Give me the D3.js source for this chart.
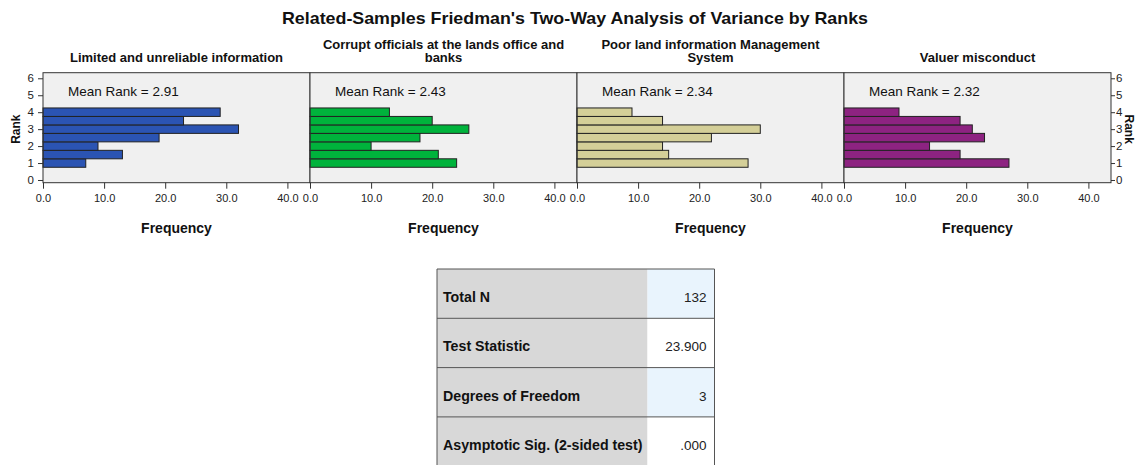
<!DOCTYPE html>
<html><head><meta charset="utf-8">
<script src="https://cdn.jsdelivr.net/npm/d3@7"></script>
<style>body{margin:0;background:#fff;} svg{display:block;font-family:"Liberation Sans",Arial,sans-serif;}</style>
</head><body>
<svg id="c" width="1137" height="465"></svg>
<script>
const title = "Related-Samples Friedman's Two-Way Analysis of Variance by Ranks";
const categories = [
  ["Limited and unreliable information"],
  ["Corrupt officials at the lands office and", "banks"],
  ["Poor land information Management", "System"],
  ["Valuer misconduct"]
];
const rankBins = [1, 1.5, 2, 2.5, 3, 3.5, 4];
const freqLimited = [7, 13, 9, 19, 32, 23, 29];
const freqCorrupt = [24, 21, 10, 18, 26, 20, 13];
const freqPoorLand = [28, 15, 14, 22, 30, 14, 9];
const freqValuer = [27, 19, 14, 23, 21, 19, 9];
const meanRanks = ["2.91", "2.43", "2.34", "2.32"];
const colors = ["#2B54B3", "#00B33C", "#D4CF98", "#8D2381"];
const xTicks = [0, 10, 20, 30, 40];
const yTicks = [0, 1, 2, 3, 4, 5, 6];
const tableLabels = ["Total N", "Test Statistic", "Degrees of Freedom", "Asymptotic Sig. (2-sided test)"];
const tableValues = ["132", "23.900", "3", ".000"];

(function () {
const series = [freqLimited, freqCorrupt, freqPoorLand, freqValuer];
const svg = d3.select("#c");

svg.append("text").attr("x", 575).attr("y", 24).attr("text-anchor", "middle")
  .attr("font-size", 17).attr("font-weight", "bold").attr("fill", "#111")
  .attr("textLength", 586).attr("lengthAdjust", "spacingAndGlyphs").text(title);

const panelW = 267, left0 = 43, plotTop = 72.7, plotBottom = 182.7;
const y = d3.scaleLinear().domain([-0.16, 6.33]).range([plotBottom, plotTop]);
const x = d3.scaleLinear().domain([0, 43.7]).range([0, panelW]);

series.forEach((vals, i) => {
  const g = svg.append("g").attr("transform", `translate(${left0 + i * panelW},0)`);
  g.append("rect").attr("x", 0).attr("y", plotTop).attr("width", panelW).attr("height", plotBottom - plotTop)
    .attr("fill", "#f0f0f0");
  g.selectAll("rect.bar").data(vals).join("rect").attr("class", "bar")
    .attr("x", x(0)).attr("y", (d, j) => y(rankBins[j] + 0.25))
    .attr("width", d => x(d) - x(0))
    .attr("height", (d, j) => y(rankBins[j] - 0.25) - y(rankBins[j] + 0.25))
    .attr("fill", colors[i]).attr("stroke", "#222").attr("stroke-width", 1);
  g.append("rect").attr("x", 0).attr("y", plotTop).attr("width", panelW).attr("height", plotBottom - plotTop)
    .attr("fill", "none").attr("stroke", "#333").attr("stroke-width", 1);
  const xa = g.append("g").attr("transform", `translate(0,${plotBottom})`)
    .call(d3.axisBottom(x).tickValues(xTicks).tickSize(6).tickFormat(d3.format(".1f")));
  xa.select(".domain").remove();
  xa.selectAll("line").attr("stroke", "#333");
  xa.selectAll("text").attr("font-size", 11).attr("fill", "#222").attr("dy", "0.95em")
    .attr("font-family", "'Liberation Sans',Arial,sans-serif");
  const lines = categories[i];
  lines.forEach((t, k) => {
    g.append("text").attr("x", panelW / 2)
      .attr("y", lines.length === 1 ? 61.5 : 48.5 + k * 13)
      .attr("text-anchor", "middle").attr("font-size", 13).attr("font-weight", "bold")
      .attr("fill", "#111").text(t);
  });
  g.append("text").attr("x", 25).attr("y", 95.5).attr("font-size", 13.5).attr("fill", "#111")
    .text("Mean Rank = " + meanRanks[i]);
  g.append("text").attr("x", panelW / 2).attr("y", 233).attr("text-anchor", "middle")
    .attr("font-size", 14).attr("font-weight", "bold").attr("fill", "#111").text("Frequency");
});

const ya = svg.append("g").attr("transform", `translate(${left0},0)`)
  .call(d3.axisLeft(y).tickValues(yTicks).tickSize(5).tickFormat(d3.format("d")));
ya.select(".domain").remove();
ya.selectAll("line").attr("stroke", "#333");
ya.selectAll("text").attr("font-size", 11.5).attr("fill", "#222").attr("x", -9)
  .attr("font-family", "'Liberation Sans',Arial,sans-serif");
svg.append("text").attr("transform", `translate(20,${y(3)}) rotate(-90)`).attr("text-anchor", "middle")
  .attr("font-size", 12).attr("font-weight", "bold").attr("fill", "#111").text("Rank");
const rx = left0 + 4 * panelW;
const yb = svg.append("g").attr("transform", `translate(${rx},0)`)
  .call(d3.axisRight(y).tickValues(yTicks).tickSize(4).tickFormat(d3.format("d")));
yb.select(".domain").remove();
yb.selectAll("line").attr("stroke", "#333");
yb.selectAll("text").attr("font-size", 11.5).attr("fill", "#222").attr("x", 5)
  .attr("font-family", "'Liberation Sans',Arial,sans-serif");
svg.append("text").attr("transform", `translate(1125,${y(3)}) rotate(90)`).attr("text-anchor", "middle")
  .attr("font-size", 12).attr("font-weight", "bold").attr("fill", "#111").text("Rank");

const tx = 437, tw1 = 210.5, tw2 = 67, ty = 269, rh = 49.3;
const tg = svg.append("g");
tableLabels.forEach((lab, r) => {
  const yy = ty + r * rh;
  tg.append("rect").attr("x", tx).attr("y", yy).attr("width", tw1).attr("height", rh).attr("fill", "#d8d8d8");
  tg.append("rect").attr("x", tx + tw1).attr("y", yy).attr("width", tw2).attr("height", rh)
    .attr("fill", r % 2 === 0 ? "#e9f4fd" : "#ffffff");
  tg.append("line").attr("x1", tx).attr("x2", tx + tw1 + tw2).attr("y1", yy).attr("y2", yy)
    .attr("stroke", "#555").attr("stroke-width", 1);
  tg.append("text").attr("x", tx + 6).attr("y", yy + rh / 2 + 8.5).attr("font-size", 14.2)
    .attr("font-weight", "bold").attr("fill", "#111").text(lab);
  tg.append("text").attr("x", tx + tw1 + tw2 - 8).attr("y", yy + rh / 2 + 8.5).attr("font-size", 13.5)
    .attr("text-anchor", "end").attr("fill", "#222").text(tableValues[r]);
});
tg.append("line").attr("x1", tx).attr("x2", tx).attr("y1", ty).attr("y2", ty + 4 * rh).attr("stroke", "#555");
tg.append("line").attr("x1", tx + tw1 + tw2).attr("x2", tx + tw1 + tw2).attr("y1", ty).attr("y2", ty + 4 * rh).attr("stroke", "#555");
})();
</script>
</body></html>
